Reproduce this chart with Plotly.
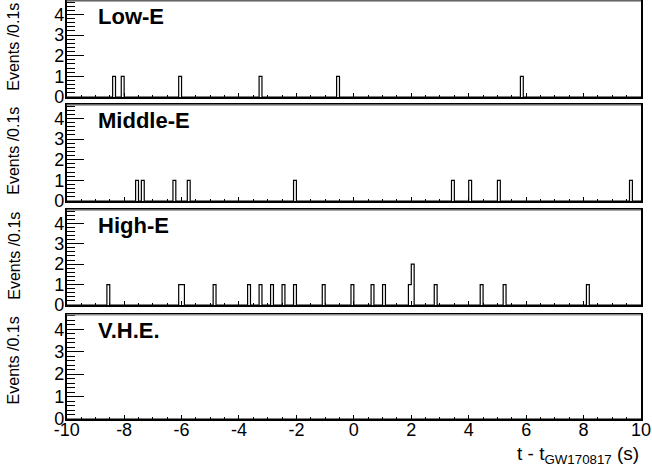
import numpy as np
import plotly.graph_objects as go

# Event times (s, relative to GW170817), read as 0.1 s bin centres
panel_names = ["Low-E", "Middle-E", "High-E", "V.H.E."]
low_e = [-8.35, -8.05, -6.05, -3.25, -0.55, 5.85]
middle_e = [-7.55, -7.35, -6.25, -5.75, -2.05, 3.45, 4.05, 5.05, 9.65]
high_e = [-8.55, -6.05, -5.95, -4.85, -3.65, -3.25, -2.85, -2.45, -2.05,
          -1.05, -0.05, 0.65, 1.05, 1.95, 2.05, 2.05, 2.85, 4.45, 5.25, 8.15]
vhe = []
series = [low_e, middle_e, high_e, vhe]

x_ticks = [-10, -8, -6, -4, -2, 0, 2, 4, 6, 8, 10]
y_ticks = [0, 1, 2, 3, 4]

W, H = 652, 470
x_left_px, x_right_px = 66.7, 641.0
panels_px = [(1, 97), (105, 201), (210, 305), (314.7, 419)]  # top, bottom

edges = np.round(np.arange(-10, 10.0001, 0.1), 2)

fig = go.Figure()
FONT = "Liberation Sans, Arial, Helvetica, sans-serif"

for i, (name, ev) in enumerate(zip(panel_names, series)):
    k = i + 1
    counts, _ = np.histogram(np.array(ev, dtype=float), bins=edges)
    xs = list(edges)
    ys = list(counts) + [counts[-1]]
    fig.add_trace(go.Scatter(
        x=xs, y=ys, mode="lines", line=dict(color="black", width=1.2, shape="hv"),
        xaxis=f"x{k}", yaxis=f"y{k}", showlegend=False, hoverinfo="skip"))

    top, bot = panels_px[i]
    ydom = [1 - bot / H, 1 - top / H]
    xdom = [x_left_px / W, x_right_px / W]
    xa = dict(domain=xdom, range=[-10, 10], anchor=f"y{k}",
              showline=True, linecolor="black", linewidth=1.5, mirror=True,
              ticks="inside", ticklen=4, tickcolor="black",
              tickvals=x_ticks, ticktext=[str(v) for v in x_ticks],
              minor=dict(dtick=0.5, tick0=-10, ticks="inside", ticklen=2, tickcolor="black"),
              showgrid=False, zeroline=False,
              showticklabels=(k == 4), ticklabelstandoff=-6,
              tickfont=dict(family=FONT, size=18, color="black"))
    ya = dict(domain=ydom, range=[0, 4.65], anchor=f"x{k}",
              showline=True, linecolor="black", linewidth=1.5, mirror=True,
              ticks="inside", ticklen=18, tickcolor="black",
              tickvals=y_ticks, ticktext=[str(v) for v in y_ticks],
              minor=dict(dtick=0.2, tick0=0, ticks="inside", ticklen=9, tickcolor="black"),
              showgrid=False, zeroline=False, ticklabelstandoff=-3,
              tickfont=dict(family=FONT, size=18, color="black"))
    fig.layout[f"xaxis{k}" if k > 1 else "xaxis"] = xa
    fig.layout[f"yaxis{k}" if k > 1 else "yaxis"] = ya

    # gray top frame line
    fig.add_shape(type="line", xref="paper", yref="paper",
                  x0=xdom[0], x1=xdom[1], y0=ydom[1], y1=ydom[1],
                  line=dict(color="#888888", width=1.5))

    # panel label
    fig.add_annotation(text=f"<b>{name}</b>", xref="paper", yref="paper",
                       x=96 / W, y=1 - (top + 15.5) / H, xanchor="left", yanchor="middle",
                       showarrow=False, font=dict(family=FONT, size=22, color="black"))
    # y title
    fig.add_annotation(text="Events /0.1s", xref="paper", yref="paper",
                       x=13.7 / W, y=1 - top / H, xanchor="center", yanchor="top",
                       textangle=-90, showarrow=False,
                       font=dict(family=FONT, size=16, color="black"))

fig.add_annotation(text="t - t<sub>GW170817</sub> (s)", xref="paper", yref="paper",
                   x=641 / W, y=1 - 469 / H, xanchor="right", yanchor="bottom",
                   showarrow=False, font=dict(family=FONT, size=19, color="black"))

fig.update_layout(width=W, height=H,
                  margin=dict(l=0, r=0, t=0, b=0, autoexpand=False),
                  paper_bgcolor="white", plot_bgcolor="white",
                  font=dict(family=FONT, color="black"))

fig.write_html("out.html")
